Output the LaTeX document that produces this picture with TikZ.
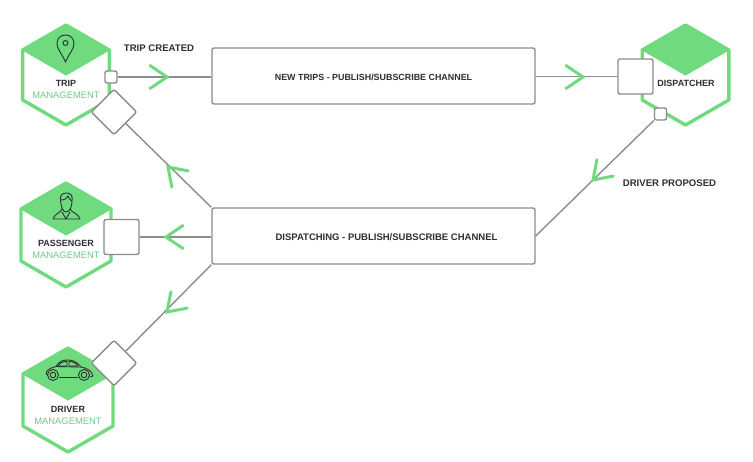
\documentclass[tikz,border=0pt]{standalone}
\usepackage{fontspec}
\setmainfont{Liberation Sans}
\usepackage{xcolor}
\usetikzlibrary{positioning, shapes.geometric}
\definecolor{hexgreen}{HTML}{6FDB7E}
\definecolor{mgmtgreen}{HTML}{78C888}
\definecolor{wire}{HTML}{8C8C8C}
\definecolor{ink}{HTML}{2E2E33}
\tikzset{
  service/.style={regular polygon, regular polygon sides=6, shape border rotate=30, minimum size=100pt, inner sep=0pt, outer sep=0pt, draw=hexgreen, line width=3.4pt, line join=round, fill=white},
  roof/.style={fill=hexgreen, draw=hexgreen, line width=1pt, line join=round},
  channel/.style={draw=wire, line width=1.4pt, rounded corners=2pt, fill=white, minimum width=323pt, minimum height=56pt, inner sep=0pt},
  channeltext/.style={text=ink, inner sep=0pt},
  port/.style={draw=wire, line width=1.4pt, rounded corners=2pt, fill=white, minimum size=35pt, inner sep=0pt},
  diamondport/.style={port, minimum size=32pt, rotate=45},
  smallport/.style={port, minimum size=12pt},
  wireline/.style={draw=wire, line width=1.4pt},
  chevron/.style={draw=hexgreen, line width=3pt, line cap=round, line join=miter},
  event/.style={font=\fontsize{9.6}{10}\selectfont\bfseries, text=ink, inner sep=0pt},
  svcname/.style={font=\fontsize{9}{10}\selectfont\bfseries, text=ink, inner sep=0pt},
  svcsub/.style={font=\fontsize{9.4}{10}\selectfont, text=mgmtgreen, inner sep=0pt},
  icon/.style={draw=ink, line width=0.9pt, line join=round},
}
\newcommand{\chev}[3]{\draw[chevron, shift={(#1,#2)}, rotate=#3] (-17,-11.5) -- (0,0) -- (-17,11.5);}
\begin{document}
\begin{tikzpicture}[x=1pt, y=-1pt]
  \useasboundingbox (0,0) rectangle (753,461);

  % Hexagons with their green tops
  \node[service] (trip) at (66,75) {};
  \node[service, minimum size=104pt] (passenger) at (66,235) {};
  \node[service, minimum size=104pt] (driver) at (68,400) {};
  \node[service] (dispatcher) at (685.5,75) {};
  \foreach \svc in {trip, passenger, driver, dispatcher}
    \fill[roof] (\svc.90) -- (\svc.30) -- (\svc.center) -- (\svc.150) -- cycle;

  % Channels
  \node[channel] (newtrips) at (373.5,76) {};
  \node[channel] (dispatching) at (373.5,236) {};
  \node[channeltext, font=\fontsize{8.9}{10}\selectfont\bfseries] (newtripslabel) at (373.5,77) {NEW TRIPS - PUBLISH/SUBSCRIBE CHANNEL};
  \node[channeltext, font=\fontsize{9.5}{10}\selectfont\bfseries] (dispatchinglabel) at (386.5,237) {DISPATCHING - PUBLISH/SUBSCRIBE CHANNEL};

  % Ports
  \node[smallport] (tripout) at (111,77) {};
  \node[diamondport] (tripin) at (114,112) {};
  \node[port] (passengerin) at (121.5,237) {};
  \node[diamondport] (driverin) at (114,363) {};
  \node[port] (dispatcherin) at (635.5,76.5) {};
  \node[smallport] (dispatcherout) at (660.5,114) {};

  % Connectors
  \draw[wireline] (tripout) -- (newtrips.west |- tripout);
  \draw[wireline] (newtrips.east |- dispatcherin) -- (dispatcherin);
  \draw[wireline] (dispatcherout) -- (dispatching.east);
  \draw[wireline] (dispatching.north west) -- (tripin);
  \draw[wireline] (dispatching.west |- passengerin) -- (passengerin);
  \draw[wireline] (dispatching.south west) -- (driverin);

  % Chevrons on the connectors
  \chev{167}{77}{0}
  \chev{583}{77}{0}
  \chev{593}{180}{225}
  \chev{168}{167}{135}
  \chev{166}{237}{180}
  \chev{167}{312}{225}

  % Labels
  \node[event] (tripcreated) at (159,48.5) {TRIP CREATED};
  \node[event] (driverproposed) at (669.5,183.5) {DRIVER PROPOSED};
  \node[svcname] (tripname) at (66,83) {TRIP};
  \node[svcsub, below=5pt of tripname] (tripsub) {MANAGEMENT};
  \node[svcname] (passengername) at (66,243) {PASSENGER};
  \node[svcsub, below=5pt of passengername] (passengersub) {MANAGEMENT};
  \node[svcname] (drivername) at (68,409) {DRIVER};
  \node[svcsub, below=5pt of drivername] (driversub) {MANAGEMENT};
  \node[svcname] (dispatchername) at (686,83.5) {DISPATCHER};

  % Pin
  \draw[icon] (65.5,62) .. controls (61,52) and (57,49) .. (57,43.5)
    .. controls (57,38) and (61,35) .. (65.5,35)
    .. controls (70,35) and (74,38) .. (74,43.5)
    .. controls (74,49) and (70,52) .. (65.5,62) -- cycle;
  \draw[icon] (65.5,43) circle (2.5);

  % Person
  \draw[icon] (60.5,200) .. controls (59.5,195) and (63,193) .. (66.5,193)
    .. controls (71,193) and (73,196) .. (72,201)
    .. controls (72,207) and (69.5,212) .. (66,212)
    .. controls (63,212) and (61,207) .. (60.5,200) -- cycle;
  \draw[icon] (60.5,200) .. controls (64,200) and (67,199) .. (68,196) .. controls (68.5,198) and (70,200) .. (72,201);
  \draw[icon] (62,209) .. controls (61,213) and (55,213) .. (53,219) -- (80,219)
    .. controls (78,213) and (72,213) .. (70,209)
    (62,212) -- (66,219) -- (70,212);

  % Car
  \draw[icon] (47,375) .. controls (44,372) and (49,368) .. (56,366.5)
    .. controls (59,361) and (63,360) .. (68,360)
    .. controls (74,360) and (78,363) .. (81,367)
    .. controls (87,368) and (92,371) .. (93,376) -- (90,377);
  \draw[icon] (78,377) -- (59,377);
  \draw[icon] (56,366.5) -- (81,367);
  \draw[icon] (58,366) .. controls (60,362.5) and (63,361.5) .. (67,361.5) -- (67,366) -- cycle
    (69,361.5) .. controls (73,361.5) and (76,363) .. (78,366) -- (69,366) -- cycle;
  \draw[icon] (53,375) circle (5.5) (53,375) circle (2.8);
  \draw[icon] (84,375) circle (5.5) (84,375) circle (2.8);
\end{tikzpicture}
\end{document}
